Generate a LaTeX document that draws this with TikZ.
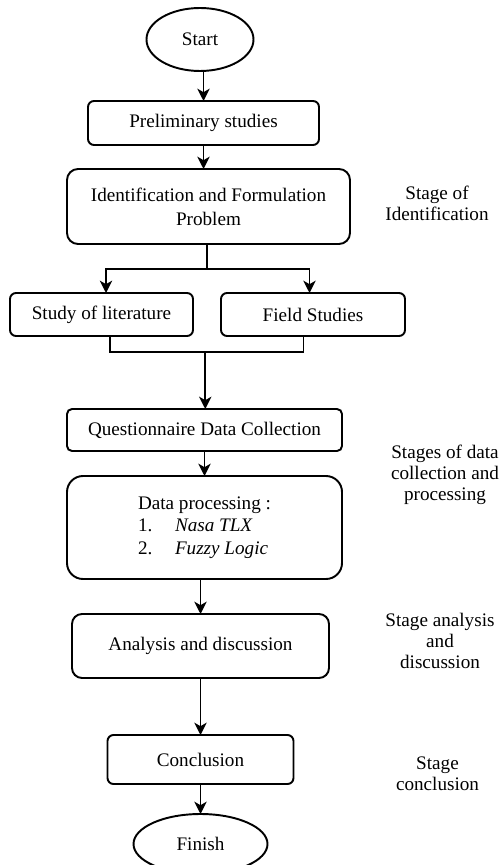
\documentclass[tikz,border=0pt]{standalone}
\usepackage{fontspec}
\setmainfont{Liberation Serif}
\usetikzlibrary{shapes.geometric,positioning,arrows.meta,calc}

\begin{document}
\begin{tikzpicture}[->,>={Stealth[length=7pt,width=7pt,inset=2pt]},line width=1.1pt,
	box/.style={draw=black,rounded corners=.12cm,align=center,inner sep=0pt,outer sep=0pt,font=\fontsize{10.9}{12.5}\selectfont},
	term/.style={draw=black,ellipse,inner sep=0pt,outer sep=0pt,font=\fontsize{10.9}{12.5}\selectfont},
	stage/.style={align=center,font=\fontsize{10.9}{12}\selectfont}]
	\useasboundingbox (0,0) rectangle (10.04,-17.3);
	\node (Start) [term,minimum width=2.14cm,minimum height=1.26cm] at (4.0,-0.79) {Start};
	\node (Prelim) [box,below=0.6cm of Start,xshift=0.07cm,minimum width=4.62cm,minimum height=0.88cm] {Preliminary studies};
	\draw (Start.south -| Prelim.north) -- (Prelim.north);
	\node (Ident) [box,below=0.48cm of Prelim,xshift=0.1cm,minimum width=5.66cm,minimum height=1.5cm,rounded corners=.22cm,font=\fontsize{10.9}{13.5}\selectfont] {Identification and Formulation\\Problem};
	\draw (Prelim.south) -- (Prelim.south |- Ident.north);
	\node (StageIdent) [stage] at ($(Ident.east)+(1.74,0.06)$) {Stage of\\Identification};
	\node (Lit) [box,below=0.98cm of Ident,xshift=-2.14cm,minimum width=3.66cm,minimum height=0.86cm] {Study of literature};
	\node (Field) [box,right=0.56cm of Lit,minimum width=3.68cm,minimum height=0.86cm] {Field Studies};
	\coordinate (Split) at ($(Ident.south)+(-0.03,-0.5)$);
	\draw[-] (Ident.south -| Split) -- (Split);
	\draw (Split) -| ($(Lit.north)+(0.09,0)$);
	\draw (Split) -| ($(Field.north)+(-0.07,0)$);
	\node (Quest) [box,below=3.3cm of Ident,xshift=-0.08cm,minimum width=5.5cm,minimum height=0.84cm,rounded corners=.1cm] {Questionnaire Data Collection};
	\coordinate (Merge) at ($(Lit.south)!0.5!(Field.south)+(-0.04,-0.32)$);
	\draw[-] ($(Lit.south)+(0.17,0)$) |- (Merge) -| ($(Field.south)+(-0.19,0)$);
	\draw (Merge) -- (Merge |- Quest.north);
	\node (Proc) [box,below=0.5cm of Quest,minimum width=5.5cm,minimum height=2.06cm,rounded corners=.32cm,align=left,font=\fontsize{10.9}{12.8}\selectfont] {Data processing :\\\makebox[0.74cm][l]{1.}\textit{Nasa TLX}\\\makebox[0.74cm][l]{2.}\textit{Fuzzy Logic}};
	\draw (Quest) -- (Proc);
	\node (StageData) [stage] at ($(Proc.east)+(2.06,1.05)$) {Stages of data\\collection and\\processing};
	\node (Anal) [box,below=0.7cm of Proc,xshift=-0.08cm,minimum width=5.14cm,minimum height=1.28cm,rounded corners=.2cm] {Analysis and discussion};
	\draw (Anal.north |- Proc.south) -- (Anal.north);
	\node (StageAnal) [stage] at ($(Anal.east)+(2.22,0.1)$) {Stage analysis\\and\\discussion};
	\node (Concl) [box,below=1.14cm of Anal,minimum width=3.72cm,minimum height=0.98cm] {Conclusion};
	\draw (Anal) -- (Concl);
	\node (StageConcl) [stage] at ($(Concl.east)+(2.88,-0.29)$) {Stage\\conclusion};
	\node (Finish) [term,below=0.6cm of Concl,minimum width=2.68cm,minimum height=1.2cm] {Finish};
	\draw (Concl) -- (Finish);
\end{tikzpicture}
\end{document}
